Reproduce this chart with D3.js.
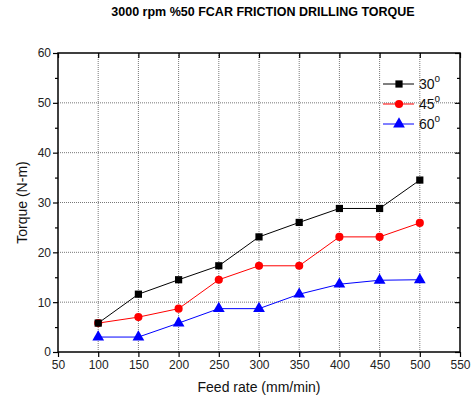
<!doctype html>
<html>
<head>
<meta charset="UTF-8">
<script src="https://d3js.org/d3.v7.min.js"></script>
<style>
  body { margin: 0; background: #fff; }
  text { font-family: "Liberation Sans", Arial, sans-serif; }
</style>
</head>
<body>
<svg width="474" height="402"></svg>
<script>
var feed = [100, 150, 200, 250, 300, 350, 400, 450, 500];
var t30 = [5.8, 11.6, 14.5, 17.3, 23.1, 26.0, 28.8, 28.8, 34.5];
var t45 = [5.8, 7.0, 8.7, 14.5, 17.3, 17.3, 23.1, 23.1, 25.9];
var t60 = [3.0, 3.0, 5.8, 8.7, 8.7, 11.6, 13.6, 14.4, 14.5];
var xTicks = [50, 100, 150, 200, 250, 300, 350, 400, 450, 500, 550];
var yTicks = [0, 10, 20, 30, 40, 50, 60];

var series = [
  { name: "30", values: t30, color: "#000000", shape: d3.symbolSquare },
  { name: "45", values: t45, color: "#ff0000", shape: d3.symbolCircle },
  { name: "60", values: t60, color: "#0000ff", shape: d3.symbolTriangle }
];

var svg = d3.select("svg");
var L = 58, R = 460, T = 53, B = 352;
var x = d3.scaleLinear().domain([50, 550]).range([L, R]);
var y = d3.scaleLinear().domain([0, 60]).range([B, T]);

// title
svg.append("text")
  .attr("x", 263).attr("y", 16)
  .attr("text-anchor", "middle")
  .attr("font-size", 12.5).attr("font-weight", "bold")
  .text("3000 rpm %50 FCAR FRICTION DRILLING TORQUE");

// grid
svg.append("g").selectAll("line").data(xTicks.slice(1, -1)).enter().append("line")
  .attr("x1", function (d) { return x(d); }).attr("x2", function (d) { return x(d); })
  .attr("y1", T).attr("y2", B)
  .attr("stroke", "#555").attr("stroke-width", 0.8).attr("stroke-dasharray", "1,1");
svg.append("g").selectAll("line").data(yTicks.slice(1, -1)).enter().append("line")
  .attr("x1", L).attr("x2", R)
  .attr("y1", function (d) { return y(d); }).attr("y2", function (d) { return y(d); })
  .attr("stroke", "#555").attr("stroke-width", 0.8).attr("stroke-dasharray", "1,1");

// axes
var minorY = d3.range(5, 60, 10);
svg.append("g").attr("transform", "translate(0," + B + ")")
  .call(d3.axisBottom(x).tickValues(xTicks).tickSize(5).tickPadding(3))
  .call(function (g) { g.select(".domain").remove(); });
svg.append("g").attr("transform", "translate(" + L + ",0)")
  .call(d3.axisLeft(y).tickValues(yTicks).tickSize(5).tickPadding(2))
  .call(function (g) { g.select(".domain").remove(); });
svg.append("g").attr("transform", "translate(" + L + ",0)")
  .call(d3.axisLeft(y).tickValues(minorY).tickSize(3).tickFormat(""))
  .call(function (g) { g.select(".domain").remove(); });
svg.append("g").attr("transform", "translate(0," + T + ")")
  .call(d3.axisBottom(x).tickValues(xTicks).tickSize(5).tickFormat(""))
  .call(function (g) { g.select(".domain").remove(); });
svg.append("g").attr("transform", "translate(" + R + ",0)")
  .call(d3.axisLeft(y).tickValues(yTicks).tickSize(5).tickFormat(""))
  .call(function (g) { g.select(".domain").remove(); });
svg.append("g").attr("transform", "translate(" + R + ",0)")
  .call(d3.axisLeft(y).tickValues(minorY).tickSize(3).tickFormat(""))
  .call(function (g) { g.select(".domain").remove(); });

svg.selectAll(".tick line").attr("stroke", "#000").attr("stroke-width", 1.2);
svg.selectAll(".tick text").attr("font-size", 12).attr("fill", "#222")
  .attr("font-family", "Liberation Sans, Arial, sans-serif");

svg.append("rect").attr("x", L).attr("y", T).attr("width", R - L).attr("height", B - T)
  .attr("fill", "none").attr("stroke", "#000").attr("stroke-width", 1.5);

// axis titles
svg.append("text").attr("x", (L + R) / 2).attr("y", 392)
  .attr("text-anchor", "middle").attr("font-size", 14).attr("fill", "#111")
  .text("Feed rate (mm/min)");
svg.append("text").attr("transform", "translate(27," + (T + B) / 2 + ") rotate(-90)")
  .attr("text-anchor", "middle").attr("font-size", 14).attr("fill", "#111")
  .text("Torque (N-m)");

// series
var line = d3.line().x(function (d, i) { return x(feed[i]); }).y(function (d) { return y(d); });
series.slice().reverse().forEach(function (s) {
  svg.append("path").datum(s.values).attr("d", line)
    .attr("fill", "none").attr("stroke", s.color).attr("stroke-width", 1);
});
series.slice().reverse().forEach(function (s) {
  var sym = d3.symbol().type(s.shape).size(s.shape === d3.symbolTriangle ? 60 : 52);
  svg.append("g").selectAll("path").data(s.values).enter().append("path")
    .attr("d", sym)
    .attr("transform", function (d, i) { return "translate(" + x(feed[i]) + "," + y(d) + ")"; })
    .attr("fill", s.color);
});

// legend
var lg = svg.append("g");
series.forEach(function (s, i) {
  var ly = 84 + i * 20;
  lg.append("line").attr("x1", 383).attr("x2", 414).attr("y1", ly).attr("y2", ly)
    .attr("stroke", s.color).attr("stroke-width", 1);
  lg.append("path").attr("d", d3.symbol().type(s.shape).size(s.shape === d3.symbolTriangle ? 60 : 52)())
    .attr("transform", "translate(399," + ly + ")").attr("fill", s.color);
  var t = lg.append("text").attr("x", 419).attr("y", ly + 5).attr("font-size", 14).attr("fill", "#111");
  t.append("tspan").text(s.name);
  t.append("tspan").attr("font-size", 10).attr("dy", -7).text("o");
});
</script>
</body>
</html>
